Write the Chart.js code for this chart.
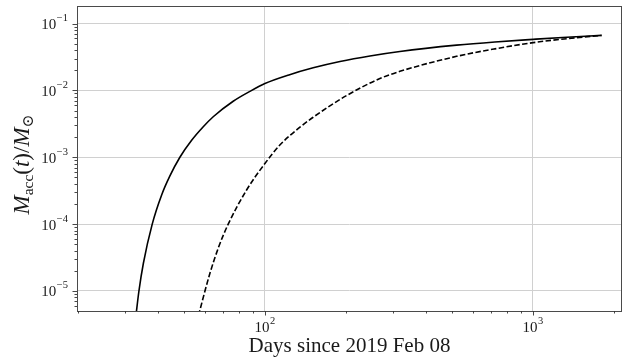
<!DOCTYPE html>
<html>
<head>
<meta charset="utf-8">
<script src="https://cdn.jsdelivr.net/npm/chart.js@4.4.1/dist/chart.umd.min.js"></script>
<style>
  html, body { margin: 0; padding: 0; background: #ffffff; }
  #wrap { width: 623px; height: 359px; }
</style>
</head>
<body>
<div id="wrap"><canvas id="c" width="623" height="359"></canvas></div>
<script>
// Accreted mass versus time since 2019 Feb 08 (log-log)
const solidDays = [33.0, 33.88, 35.2, 37.98, 41.18, 44.21, 48.17, 53.2, 58.88, 64.14, 76.15, 87.9, 100, 122.9, 151.4, 190.6, 246.6, 318.9, 519.1, 721.4, 1002.6, 1339, 1804];
const solidMass = [4.2e-6, 1.0e-5, 2.6e-5, 1.0e-4, 2.73e-4, 5.26e-4, 1.0e-3, 1.78e-3, 2.86e-3, 4.04e-3, 6.89e-3, 9.68e-3, 0.01268, 0.01705, 0.02176, 0.02704, 0.03277, 0.03826, 0.04753, 0.05307, 0.05802, 0.06243, 0.0665];

const dashedDays = [56.5, 62.35, 67.36, 72.96, 85.45, 100, 113.7, 135.1, 151.4, 201.8, 268.6, 318.9, 519.1, 721.4, 1002.6, 1339, 1804];
const dashedMass = [4.3e-6, 1.84e-5, 4.66e-5, 1.0e-4, 3.24e-4, 8.06e-4, 1.525e-3, 2.813e-3, 3.97e-3, 8.38e-3, 0.01505, 0.01928, 0.03232, 0.04184, 0.05181, 0.05943, 0.0666];

// labelled decades (exponents of ten) on each axis
const xDecades = [2, 3];
const yDecades = [-5, -4, -3, -2, -1];
const xRange = [19.9, 2150];
const yRange = [5.02e-6, 0.183];

const xTitle = 'Days since 2019 Feb 08';

const SERIF = '"Liberation Serif", "DejaVu Serif", serif';
const TICK_FONT = 15;
const SUP_FONT = 10.5;

function toPoints(xs, ys) {
  return xs.map((x, i) => ({ x: x, y: ys[i] }));
}

// log ticks: 1..9 x 10^n inside the range, powers of ten flagged as major
function logTicks(range) {
  const out = [];
  const lo = Math.floor(Math.log10(range[0]));
  const hi = Math.floor(Math.log10(range[1]));
  for (let e = lo; e <= hi; e++) {
    for (let s = 1; s <= 9; s++) {
      const v = s * Math.pow(10, e);
      if (v >= range[0] * 0.999 && v <= range[1]) out.push({ value: v, major: s === 1 });
    }
  }
  return out;
}

function supText(exp) {
  return exp < 0 ? '\u2212' + Math.abs(exp) : String(exp);
}

// draws "10" followed by a superscript exponent
function drawPow10(ctx, exp, x, baseline, align) {
  ctx.font = TICK_FONT + 'px ' + SERIF;
  const wb = ctx.measureText('10').width;
  ctx.font = SUP_FONT + 'px ' + SERIF;
  const sup = supText(exp);
  const ws = ctx.measureText(sup).width;
  const w = wb + ws + 0.5;
  const x0 = align === 'center' ? x - w / 2 : x - w;
  ctx.textAlign = 'left';
  ctx.textBaseline = 'alphabetic';
  ctx.font = TICK_FONT + 'px ' + SERIF;
  ctx.fillText('10', x0, baseline);
  ctx.font = SUP_FONT + 'px ' + SERIF;
  ctx.fillText(sup, x0 + wb + 0.5, baseline - 8);
}

const axisDecor = {
  id: 'axisDecor',
  afterDraw(chart) {
    const ctx = chart.ctx;
    const area = chart.chartArea;
    const xs = chart.scales.x;
    const ys = chart.scales.y;
    ctx.save();

    // frame
    ctx.strokeStyle = '#4a4a4a';
    ctx.lineWidth = 1;
    ctx.strokeRect(Math.round(area.left) + 0.5, Math.round(area.top) + 0.5,
                   Math.round(area.right - area.left) - 1, Math.round(area.bottom - area.top));

    // tick marks, outside the frame
    ctx.beginPath();
    xs.ticks.forEach(t => {
      const px = Math.round(xs.getPixelForValue(t.value)) + 0.5;
      const len = t.major ? 4.5 : 2.5;
      ctx.moveTo(px, area.bottom);
      ctx.lineTo(px, area.bottom + len);
    });
    ys.ticks.forEach(t => {
      const py = Math.round(ys.getPixelForValue(t.value)) + 0.5;
      const len = t.major ? 4.5 : 2.5;
      ctx.moveTo(area.left, py);
      ctx.lineTo(area.left - len, py);
    });
    ctx.strokeStyle = '#333333';
    ctx.lineWidth = 0.9;
    ctx.stroke();

    // tick labels
    ctx.fillStyle = '#1a1a1a';
    xDecades.forEach(e => {
      const px = xs.getPixelForValue(Math.pow(10, e));
      drawPow10(ctx, e, px, area.bottom + 20.5, 'center');
    });
    yDecades.forEach(e => {
      const py = ys.getPixelForValue(Math.pow(10, e));
      drawPow10(ctx, e, area.left - 9, py + 5.5, 'right');
    });

    // y-axis title: M_acc(t) / M_sun
    const runs = [
      { t: 'M', f: 'italic 23px ' + SERIF, dy: 0 },
      { t: 'acc', f: '15.5px ' + SERIF, dy: 4.5 },
      { t: '(', f: '23px ' + SERIF, dy: 0 },
      { t: 't', f: 'italic 23px ' + SERIF, dy: 0 },
      { t: ')', f: '23px ' + SERIF, dy: 0 },
      { t: '/', f: '23px ' + SERIF, dy: 0 },
      { t: 'M', f: 'italic 23px ' + SERIF, dy: 0 },
      { t: '\u2299', f: '15.5px "DejaVu Serif", ' + SERIF, dy: 4.5 }
    ];
    let total = 0;
    runs.forEach(r => { ctx.font = r.f; r.w = ctx.measureText(r.t).width; total += r.w; });
    ctx.translate(21, (area.top + area.bottom) / 2 + 6);
    ctx.rotate(-Math.PI / 2);
    ctx.textAlign = 'left';
    ctx.textBaseline = 'alphabetic';
    let cx = -total / 2;
    runs.forEach(r => {
      ctx.font = r.f;
      ctx.fillText(r.t, cx, 7.5 + r.dy);
      cx += r.w;
    });
    ctx.restore();
  }
};

new Chart(document.getElementById('c'), {
  type: 'line',
  data: {
    datasets: [
      {
        data: toPoints(solidDays, solidMass),
        borderColor: '#000000',
        borderWidth: 1.6,
        pointRadius: 0,
        cubicInterpolationMode: 'monotone',
        fill: false
      },
      {
        data: toPoints(dashedDays, dashedMass),
        borderColor: '#000000',
        borderWidth: 1.6,
        borderDash: [5.5, 2.4],
        pointRadius: 0,
        cubicInterpolationMode: 'monotone',
        fill: false
      }
    ]
  },
  options: {
    responsive: false,
    animation: false,
    devicePixelRatio: 1,
    layout: { padding: { top: 6, right: 1, left: 0, bottom: 0 } },
    plugins: { legend: { display: false }, tooltip: { enabled: false } },
    scales: {
      x: {
        type: 'logarithmic',
        min: xRange[0],
        max: xRange[1],
        afterBuildTicks: s => { s.ticks = logTicks(xRange); },
        afterFit: s => { s.height = 48; },
        ticks: { display: false },
        grid: {
          drawTicks: false,
          color: c => (c.tick && c.tick.major ? '#d0d0d0' : 'rgba(0,0,0,0)'),
          lineWidth: 1
        },
        border: { display: false },
        title: {
          display: true,
          text: xTitle,
          color: '#1a1a1a',
          font: { family: SERIF, size: 21 },
          padding: { top: 0, bottom: 0 }
        }
      },
      y: {
        type: 'logarithmic',
        min: yRange[0],
        max: yRange[1],
        afterBuildTicks: s => { s.ticks = logTicks(yRange); },
        afterFit: s => { s.width = 77; },
        ticks: { display: false },
        grid: {
          drawTicks: false,
          color: c => (c.tick && c.tick.major ? '#d0d0d0' : 'rgba(0,0,0,0)'),
          lineWidth: 1
        },
        border: { display: false }
      }
    }
  },
  plugins: [axisDecor]
});
</script>
</body>
</html>
